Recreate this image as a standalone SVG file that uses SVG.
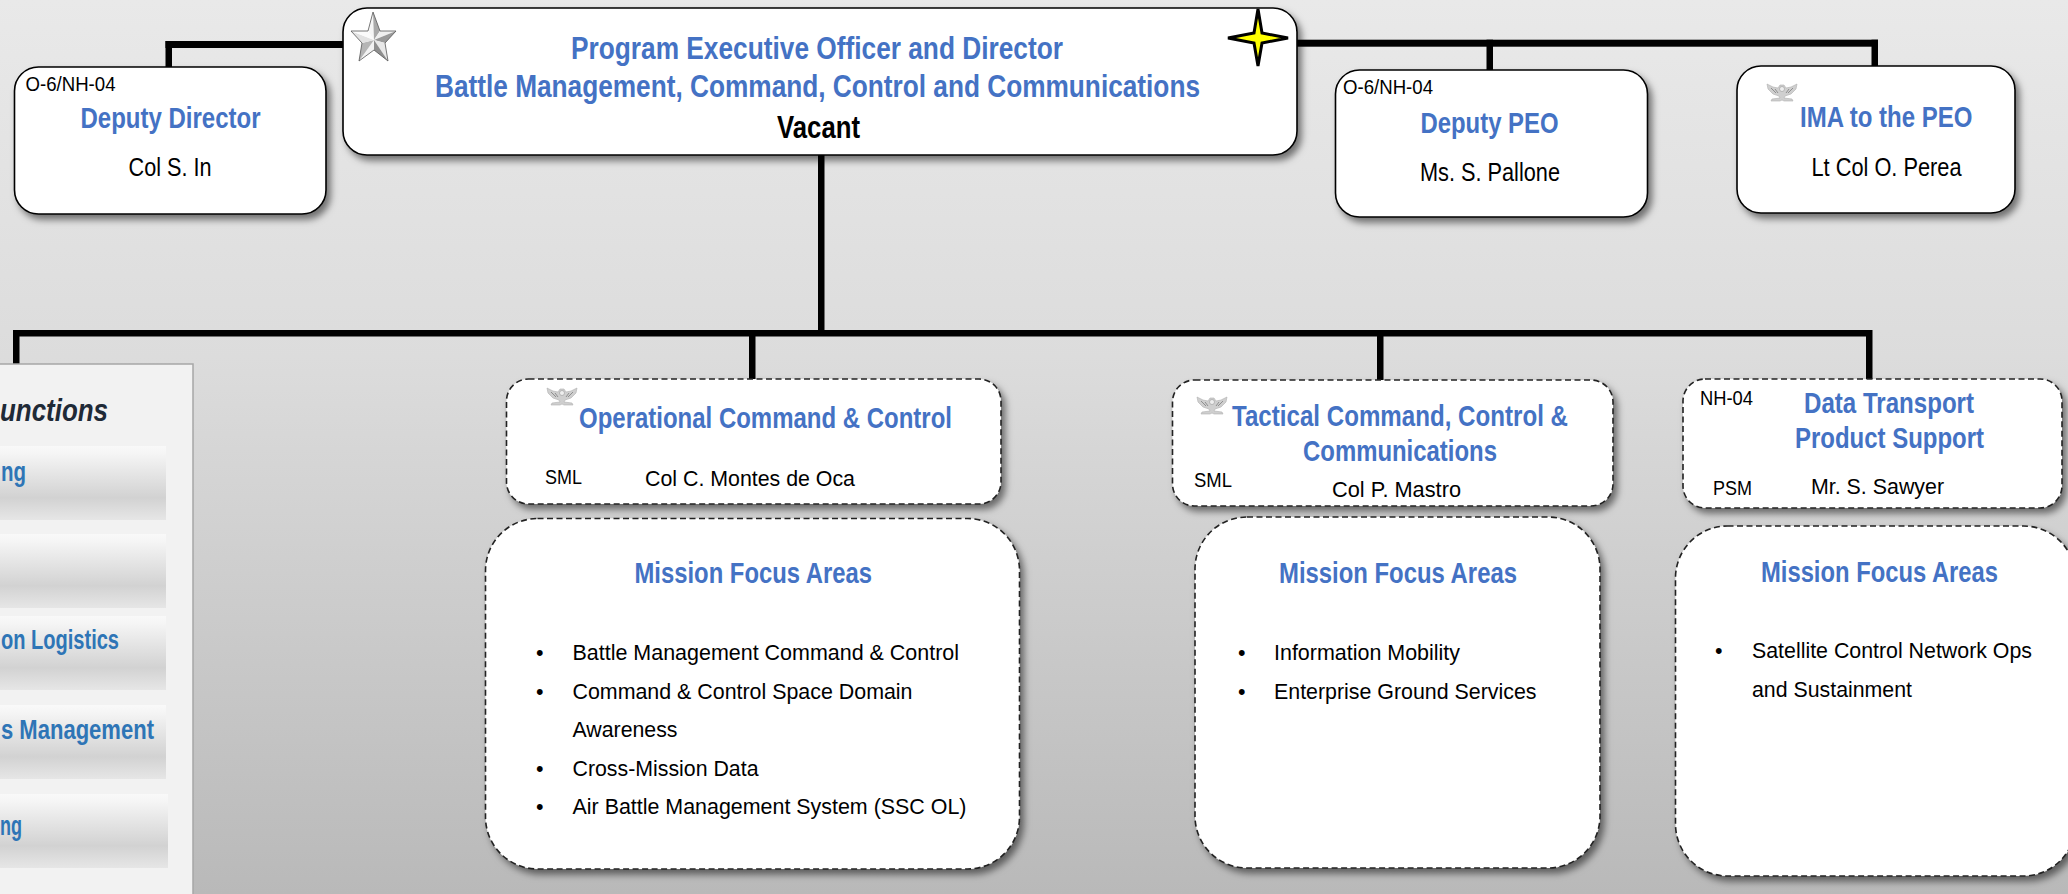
<svg xmlns="http://www.w3.org/2000/svg" xmlns:xlink="http://www.w3.org/1999/xlink" width="2068" height="894" viewBox="0 0 2068 894">
<style>
text{font-family:"Liberation Sans",Arial,sans-serif}
.h{font-weight:700;fill:#4472c4;font-size:30px}
.t{font-weight:700;fill:#4472c4;font-size:31.500px}
.n{fill:#000;font-size:26.500px}
.s{fill:#000;font-size:20px}
.b{fill:#000;font-size:21.500px}
.f{font-weight:700;fill:#2e75b6;font-size:27px}
.solid{fill:#fff;stroke:#000;stroke-width:1.600;filter:url(#sh)}
.dash{fill:#fff;stroke:#222;stroke-width:1.600;stroke-dasharray:6 3.500;filter:url(#sh)}
.btn{fill:url(#btn)}
.c{fill:#000}
</style>
<defs>
<linearGradient id="bg" x1="0" y1="0" x2="0" y2="1"><stop offset="0" stop-color="#e9e9e9"/><stop offset=".4" stop-color="#dcdcdc"/><stop offset="1" stop-color="#b9b9b9"/></linearGradient>
<linearGradient id="btn" x1="0" y1="0" x2="0" y2="1"><stop offset="0" stop-color="#f9f9f9"/><stop offset=".1" stop-color="#f5f5f5"/><stop offset=".7" stop-color="#d2d2d2"/><stop offset="1" stop-color="#e6e6e6"/></linearGradient>
<filter id="sh" x="-10%" y="-10%" width="125%" height="125%"><feDropShadow dx="4" dy="5" stdDeviation="3.500" flood-color="#000" flood-opacity=".5"/></filter>
<g id="eagle">
<path d="M0 0 L6 3 L11 4 L13 1 L17 1 L19 4 L24 3 L30 0 L29 5 L24 10 L18 12 L17 14 L25 15 L26 17 L17 17 L15 16 L13 17 L4 17 L5 15 L13 14 L12 12 L6 10 L1 5Z" fill="#cfcfcf" stroke="#b0b0b0" stroke-width=".6"/>
<path d="M4 4 L9 9 M8 5 L11 9 M26 4 L21 9 M22 5 L19 9" stroke="#8f8f8f" stroke-width="1" fill="none"/>
<circle cx="15" cy="5" r="2.500" fill="#eee" stroke="#999" stroke-width=".6"/>
</g>
</defs>
<rect id="background" width="2068" height="894" fill="url(#bg)"/>
<g id="connectors">
<rect class="c" x="165.500" y="41" width="178.500" height="7"/><rect class="c" x="165.500" y="41" width="6.500" height="27"/>
<rect class="c" x="1297" y="39.700" width="581" height="7"/><rect class="c" x="1486.500" y="39.700" width="6.500" height="31"/><rect class="c" x="1871.500" y="39.700" width="6.500" height="27"/>
<rect class="c" x="818" y="154" width="6.500" height="180"/>
<rect class="c" x="13" y="330" width="1859" height="6.500"/>
<rect class="c" x="13" y="330" width="6.500" height="35"/><rect class="c" x="749" y="330" width="6.500" height="51"/><rect class="c" x="1377" y="330" width="6.500" height="51"/><rect class="c" x="1866" y="330" width="6.500" height="50"/>
</g>
<g id="functions-panel">
<rect x="-3" y="364" width="196" height="540" fill="#f2f2f2" stroke="#a6a6a6" stroke-width="1.500"/>
<rect class="btn" x="-3" y="446" width="169" height="74"/><rect class="btn" x="-3" y="534" width="169" height="74"/><rect class="btn" x="-3" y="616" width="169" height="74"/><rect class="btn" x="-3" y="705" width="169" height="74"/><rect class="btn" x="-3" y="794" width="171" height="74"/>
<text x="0" y="421" font-size="31" font-weight="700" font-style="italic" fill="#1f2a37" textLength="108" lengthAdjust="spacingAndGlyphs">unctions</text>
<text class="f" x="1" y="481" textLength="25" lengthAdjust="spacingAndGlyphs">ng</text>
<text class="f" x="1" y="649" textLength="118" lengthAdjust="spacingAndGlyphs">on Logistics</text>
<text class="f" x="1" y="738.500" textLength="153" lengthAdjust="spacingAndGlyphs">s Management</text>
<text class="f" x="0" y="835" textLength="22" lengthAdjust="spacingAndGlyphs">ng</text>
</g>
<g id="peo">
<rect class="solid" x="343" y="8" width="954" height="147" rx="24"/>
<g id="star" stroke="none">
<polygon points="373,12 368,31 374,40" fill="#f6f6f6"/><polygon points="373,12 380,31 374,40" fill="#a9a9a9"/>
<polygon points="396,31 380,31 374,40" fill="#efefef"/><polygon points="396,31 385,43 374,40" fill="#9a9a9a"/>
<polygon points="388,61 385,43 374,40" fill="#e8e8e8"/><polygon points="388,61 374,50 374,40" fill="#8f8f8f"/>
<polygon points="359,61 374,50 374,40" fill="#f2f2f2"/><polygon points="359,61 362,43 374,40" fill="#b5b5b5"/>
<polygon points="351,31 362,43 374,40" fill="#e2e2e2"/><polygon points="351,31 368,31 374,40" fill="#fbfbfb"/>
<polygon points="373,12 380,31 396,31 385,43 388,61 374,50 359,61 362,43 351,31 368,31" fill="none" stroke="#555" stroke-width=".8"/>
</g>
<path d="M1258 9 L1262 33 L1288 38 L1262 43 L1258 66 L1254 43 L1228 38 L1254 33Z" fill="#ffff00" stroke="#000" stroke-width="3" stroke-linejoin="miter"/>
<text class="t" x="571" y="58.500" textLength="492" lengthAdjust="spacingAndGlyphs">Program Executive Officer and Director</text>
<text class="t" x="435" y="96.500" textLength="765" lengthAdjust="spacingAndGlyphs">Battle Management, Command, Control and Communications</text>
<text x="777" y="137.500" font-size="31" font-weight="700" textLength="83" lengthAdjust="spacingAndGlyphs">Vacant</text>
</g>
<g id="deputy-director">
<rect class="solid" x="14.500" y="67" width="311.500" height="147" rx="24"/>
<text class="s" x="25.500" y="91" textLength="90" lengthAdjust="spacingAndGlyphs">O-6/NH-04</text>
<text class="h" x="80.500" y="128" textLength="180" lengthAdjust="spacingAndGlyphs">Deputy Director</text>
<text class="n" x="128.500" y="176" textLength="83" lengthAdjust="spacingAndGlyphs">Col S. In</text>
</g>
<g id="deputy-peo">
<rect class="solid" x="1335.500" y="70" width="312" height="147" rx="24"/>
<text class="s" x="1343" y="94" textLength="90" lengthAdjust="spacingAndGlyphs">O-6/NH-04</text>
<text class="h" x="1420.500" y="133" textLength="138" lengthAdjust="spacingAndGlyphs">Deputy PEO</text>
<text class="n" x="1420" y="181" textLength="140" lengthAdjust="spacingAndGlyphs">Ms. S. Pallone</text>
</g>
<g id="ima">
<rect class="solid" x="1737" y="66" width="278" height="147" rx="24"/>
<use xlink:href="#eagle" href="#eagle" x="1767" y="84"/>
<text class="h" x="1800" y="127" textLength="172.500" lengthAdjust="spacingAndGlyphs">IMA to the PEO</text>
<text class="n" x="1811.500" y="176" textLength="150" lengthAdjust="spacingAndGlyphs">Lt Col O. Perea</text>
</g>
<g id="opcc">
<rect class="dash" x="506.500" y="379" width="494.500" height="125" rx="22"/>
<use xlink:href="#eagle" href="#eagle" x="547" y="388"/>
<text class="h" x="579" y="428" textLength="373" lengthAdjust="spacingAndGlyphs">Operational Command &amp; Control</text>
<text class="s" x="545" y="484" textLength="37" lengthAdjust="spacingAndGlyphs">SML</text>
<text class="b" x="645" y="486" textLength="210" lengthAdjust="spacingAndGlyphs">Col C. Montes de Oca</text>
</g>
<g id="opcc-focus">
<rect class="dash" x="485.500" y="518.500" width="534" height="350.500" rx="52"/>
<text class="h" x="634.500" y="582.500" textLength="237.500" lengthAdjust="spacingAndGlyphs">Mission Focus Areas</text>
<text class="b" x="536" y="660">•</text><text class="b" x="572.500" y="660" textLength="386.500" lengthAdjust="spacingAndGlyphs">Battle Management Command &amp; Control</text>
<text class="b" x="536" y="699">•</text><text class="b" x="572.500" y="699" textLength="340" lengthAdjust="spacingAndGlyphs">Command &amp; Control Space Domain</text>
<text class="b" x="572.500" y="737" textLength="105" lengthAdjust="spacingAndGlyphs">Awareness</text>
<text class="b" x="536" y="776">•</text><text class="b" x="572.500" y="776" textLength="186" lengthAdjust="spacingAndGlyphs">Cross-Mission Data</text>
<text class="b" x="536" y="814">•</text><text class="b" x="572.500" y="814" textLength="394" lengthAdjust="spacingAndGlyphs">Air Battle Management System (SSC OL)</text>
</g>
<g id="tactical">
<rect class="dash" x="1172.500" y="380" width="440.500" height="126" rx="22"/>
<use xlink:href="#eagle" href="#eagle" x="1197" y="397"/>
<text class="h" x="1232" y="426" textLength="336" lengthAdjust="spacingAndGlyphs">Tactical Command, Control &amp;</text>
<text class="h" x="1303" y="461" textLength="194" lengthAdjust="spacingAndGlyphs">Communications</text>
<text class="s" x="1194" y="487" textLength="38" lengthAdjust="spacingAndGlyphs">SML</text>
<text class="b" x="1332" y="497" textLength="129" lengthAdjust="spacingAndGlyphs">Col P. Mastro</text>
</g>
<g id="tactical-focus">
<rect class="dash" x="1195" y="517" width="405" height="351" rx="52"/>
<text class="h" x="1279" y="582.500" textLength="238" lengthAdjust="spacingAndGlyphs">Mission Focus Areas</text>
<text class="b" x="1238" y="660">•</text><text class="b" x="1274" y="660" textLength="186" lengthAdjust="spacingAndGlyphs">Information Mobility</text>
<text class="b" x="1238" y="699">•</text><text class="b" x="1274" y="699" textLength="262.500" lengthAdjust="spacingAndGlyphs">Enterprise Ground Services</text>
</g>
<g id="data-transport">
<rect class="dash" x="1683" y="379" width="379" height="129" rx="22"/>
<text class="s" x="1700" y="405" textLength="53" lengthAdjust="spacingAndGlyphs">NH-04</text>
<text class="h" x="1804" y="413" textLength="170" lengthAdjust="spacingAndGlyphs">Data Transport</text>
<text class="h" x="1795" y="448" textLength="189" lengthAdjust="spacingAndGlyphs">Product Support</text>
<text class="s" x="1713" y="495" textLength="39" lengthAdjust="spacingAndGlyphs">PSM</text>
<text class="b" x="1811" y="494" textLength="133" lengthAdjust="spacingAndGlyphs">Mr. S. Sawyer</text>
</g>
<g id="data-focus">
<rect class="dash" x="1675.500" y="526" width="400" height="350" rx="52"/>
<text class="h" x="1761" y="582" textLength="237" lengthAdjust="spacingAndGlyphs">Mission Focus Areas</text>
<text class="b" x="1715" y="658">•</text><text class="b" x="1752" y="658" textLength="280" lengthAdjust="spacingAndGlyphs">Satellite Control Network Ops</text>
<text class="b" x="1752" y="697" textLength="160" lengthAdjust="spacingAndGlyphs">and Sustainment</text>
</g>
</svg>
